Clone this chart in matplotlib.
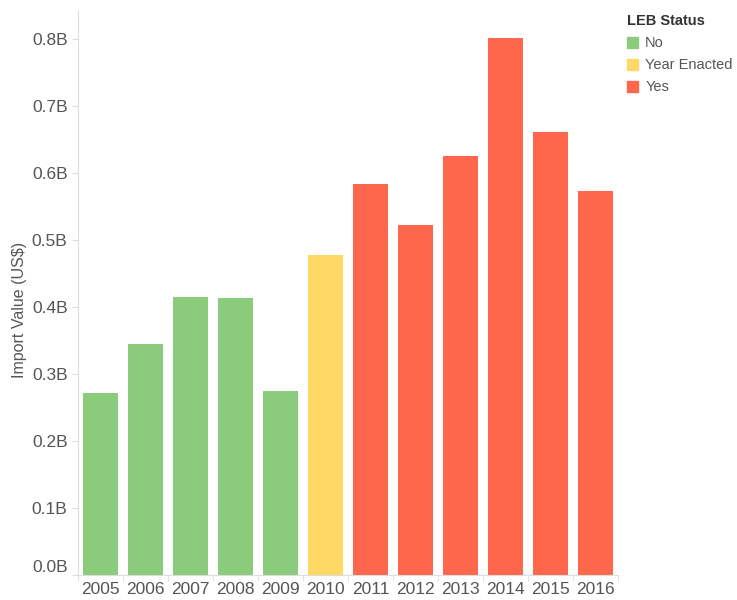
import matplotlib.pyplot as plt
from matplotlib.patches import Patch
import numpy as np

years = ["2005", "2006", "2007", "2008", "2009", "2010",
         "2011", "2012", "2013", "2014", "2015", "2016"]
import_value = [0.271, 0.345, 0.415, 0.413, 0.275, 0.478,
                0.584, 0.522, 0.625, 0.801, 0.661, 0.573]
status = ["No", "No", "No", "No", "No", "Year Enacted",
          "Yes", "Yes", "Yes", "Yes", "Yes", "Yes"]

colors = {"No": "#8BCB7C", "Year Enacted": "#FFD966", "Yes": "#FF674D"}

plt.rcParams['font.family'] = ['Liberation Sans', 'DejaVu Sans']

fig = plt.figure(figsize=(7.37, 6), dpi=100)
ax = fig.add_axes([78 / 737, 25 / 600, 540 / 737, 564 / 600])

x = np.arange(len(years))
ax.bar(x, import_value, width=0.76, color=[colors[s] for s in status])

ax.set_xlim(-0.5, len(years) - 0.5)
ax.set_ylim(0, 0.842)
ax.set_xticks(x)
ax.set_xticklabels(years)
ax.set_xticks(np.arange(-0.5, len(years)), minor=True)
ax.tick_params(axis="x", which="major", length=0, pad=5, labelsize=12.5, labelcolor="#555555")
ax.tick_params(axis="x", which="minor", length=4, color="#dddddd")

yt = np.arange(0, 0.81, 0.1)
ax.set_yticks(yt)
ax.set_yticklabels(["%.1fB" % v for v in yt])
ax.tick_params(axis="y", length=4, color="#dddddd", labelsize=12.5, labelcolor="#555555")
# first label sits a bit higher, like the original
ax.get_yticklabels()[0].set_va("bottom")

ax.set_ylabel("Import Value (US$)", fontsize=11.5, color="#555555", labelpad=10)
ax.yaxis.set_label_coords(-0.095, 0.47)

for s in ["top", "right"]:
    ax.spines[s].set_visible(False)
for s in ["left", "bottom"]:
    ax.spines[s].set_color("#dddddd")

handles = [Patch(color=colors[k], label=k) for k in ["No", "Year Enacted", "Yes"]]
leg = fig.legend(handles=handles, title="LEB Status", loc="upper left",
                 bbox_to_anchor=(624 / 737, 1 - 11 / 600), frameon=False,
                 fontsize=10.5, title_fontsize=10.5, handlelength=0.75, handleheight=0.75,
                 handletextpad=0.5, labelspacing=0.55, borderaxespad=0, borderpad=0.2)
leg.get_title().set_fontweight("bold")
leg.get_title().set_color("#333333")
leg._legend_box.align = "left"
leg._legend_box.sep = 6
for t in leg.get_texts():
    t.set_color("#555555")

fig.savefig("out.png", dpi=100)
